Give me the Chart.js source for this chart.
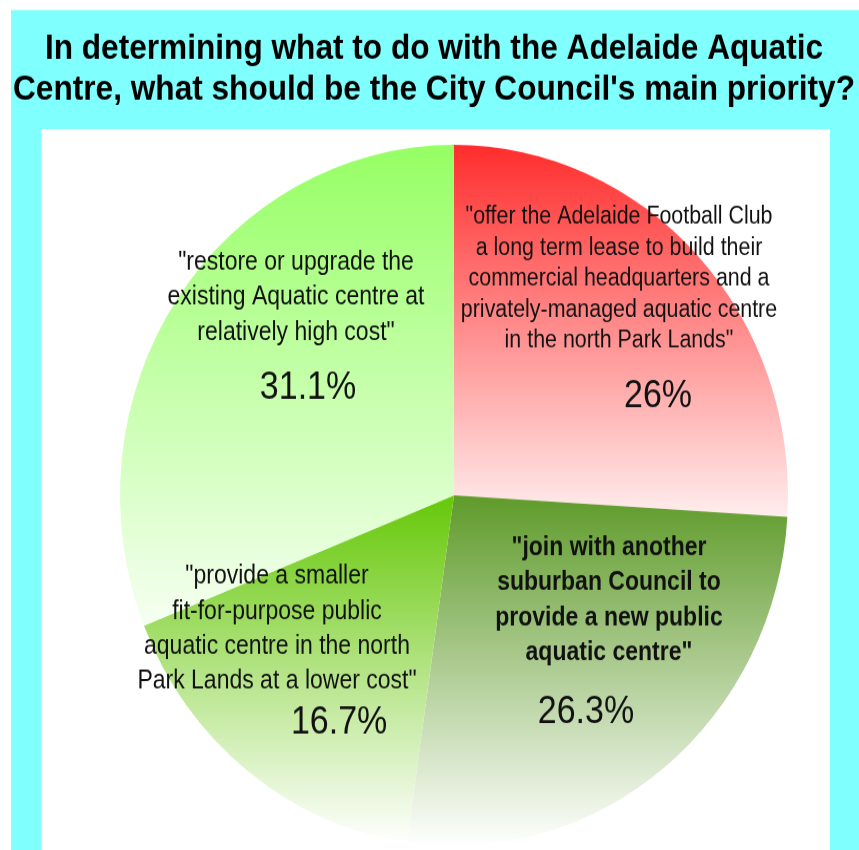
<!DOCTYPE html>
<html><head><meta charset="utf-8">
<script src="https://cdn.jsdelivr.net/npm/chart.js@4/dist/chart.umd.min.js"></script>
<style>
html{overflow:hidden}
html,body{margin:0;padding:0;background:#fff}
body{width:859px;height:850px}
#wrap{width:859px;height:810px;transform:scaleY(1.0494);transform-origin:0 0}
</style></head><body>
<div id="wrap"><canvas id="c"></canvas></div>
<script>
const titleLines = [
  "In determining what to do with the Adelaide Aquatic",
  "Centre, what should be the City Council's main priority?"
];
const categories = [
  "offer the Adelaide Football Club a long term lease",
  "join with another suburban Council",
  "provide a smaller fit-for-purpose public aquatic centre",
  "restore or upgrade the existing Aquatic centre"
];
const values = [26, 26.3, 16.7, 31.1];
const percentLabels = ["26%", "26.3%", "16.7%", "31.1%"];
const labelLines = [
  ["\"offer the Adelaide Football Club", "a long term lease to build their", "commercial headquarters and a", "privately-managed aquatic centre", "in the north Park Lands\""],
  ["\"join with another", "suburban Council to", "provide a new public", "aquatic centre\""],
  ["\"provide a smaller", "fit-for-purpose public", "aquatic centre in the north", "Park Lands at a lower cost\""],
  ["\"restore or upgrade the", "existing Aquatic centre at", "relatively high cost\""]
];
const topColors = ["rgb(255,45,45)", "rgb(95,155,42)", "rgb(102,200,8)", "rgb(150,255,100)"];
const bottomColors = ["rgb(255,238,238)", "rgb(255,255,255)", "rgb(255,255,255)", "rgb(246,255,242)"];

// label placement relative to pie centre, in units of radius
const labelAnchor = [[0.494,-0.794],[0.464,0.150],[-0.530,0.232],[-0.473,-0.666]];
const pctAnchor = [[0.611,-0.281],[0.395,0.620],[-0.344,0.648],[-0.437,-0.307]];
const lineGap = [29.5, 33.3, 33.3, 33.5];
const labelSize = [21.4, 23, 23, 23];
const labelBold = [false, true, false, false];
const TEXT_STRETCH = 1.1;

const FONT = '"Liberation Sans", Arial, sans-serif';

function sliceGradient(ctx) {
  const chart = ctx.chart;
  const a = chart.chartArea;
  if (!a) return topColors[ctx.dataIndex];
  const i = ctx.dataIndex;
  const cx = (a.left + a.right) / 2, cy = (a.top + a.bottom) / 2;
  const r = Math.min(a.right - a.left, a.bottom - a.top) / 2;
  const total = values.reduce((s, v) => s + v, 0);
  let start = 0;
  for (let k = 0; k < i; k++) start += values[k];
  const t0 = start / total * Math.PI * 2, t1 = (start + values[i]) / total * Math.PI * 2;
  let ymin = cy, ymax = cy;
  for (let s = 0; s <= 60; s++) {
    const t = t0 + (t1 - t0) * s / 60;
    const y = cy - r * Math.cos(t);
    ymin = Math.min(ymin, y); ymax = Math.max(ymax, y);
  }
  const g = chart.ctx.createLinearGradient(0, ymin, 0, ymax);
  g.addColorStop(0, topColors[i]);
  g.addColorStop(1, bottomColors[i]);
  return g;
}

function stretchedText(c, txt, x, y, sx, sy) {
  c.save();
  c.translate(x, y);
  c.scale(sx, sy);
  c.fillText(txt, 0, 0);
  c.restore();
}

const backdrop = {
  id: 'backdrop',
  beforeDraw(chart) {
    const c = chart.ctx, W = chart.width, H = chart.height;
    c.save();
    c.fillStyle = '#ffffff'; c.fillRect(0, 0, W, H);
    c.fillStyle = '#80ffff'; c.fillRect(11, 9.5, W - 11, H);
    c.fillStyle = '#ffffff'; c.fillRect(41, 123, 789, H);
    c.fillStyle = '#000000';
    c.textAlign = 'center'; c.textBaseline = 'alphabetic';
    c.font = 'bold 34px ' + FONT;
    const sx = 842 / c.measureText(titleLines[1]).width;
    stretchedText(c, titleLines[0], 434, 56.2, sx, 1);
    stretchedText(c, titleLines[1], 434, 95.3, sx, 1);
    c.restore();
  }
};

const sliceText = {
  id: 'sliceText',
  afterDatasetsDraw(chart) {
    const c = chart.ctx;
    const meta = chart.getDatasetMeta(0);
    const arc0 = meta.data[0];
    const cx = arc0.x, cy = arc0.y, r = arc0.outerRadius;
    c.save();
    c.fillStyle = '#111111';
    c.textAlign = 'center'; c.textBaseline = 'middle';
    for (let i = 0; i < values.length; i++) {
      c.font = (labelBold[i] ? 'bold ' : '') + labelSize[i] + 'px ' + FONT;
      const x = cx + labelAnchor[i][0] * r;
      const y0 = cy + labelAnchor[i][1] * r;
      labelLines[i].forEach((ln, k) => stretchedText(c, ln, x, y0 + k * lineGap[i], 1, TEXT_STRETCH));
      c.font = '34px ' + FONT;
      stretchedText(c, percentLabels[i], cx + pctAnchor[i][0] * r, cy + pctAnchor[i][1] * r, 1, TEXT_STRETCH);
    }
    c.restore();
  }
};

new Chart(document.getElementById('c'), {
  type: 'pie',
  data: {
    labels: categories,
    datasets: [{
      data: values,
      backgroundColor: sliceGradient,
      borderWidth: 0
    }]
  },
  options: {
    responsive: true,
    maintainAspectRatio: false,
    animation: false,
    layout: { padding: { left: 120, right: 71, top: 138, bottom: 4 } },
    plugins: { legend: { display: false }, tooltip: { enabled: false }, title: { display: false } }
  },
  plugins: [backdrop, sliceText]
});
</script>
</body></html>
